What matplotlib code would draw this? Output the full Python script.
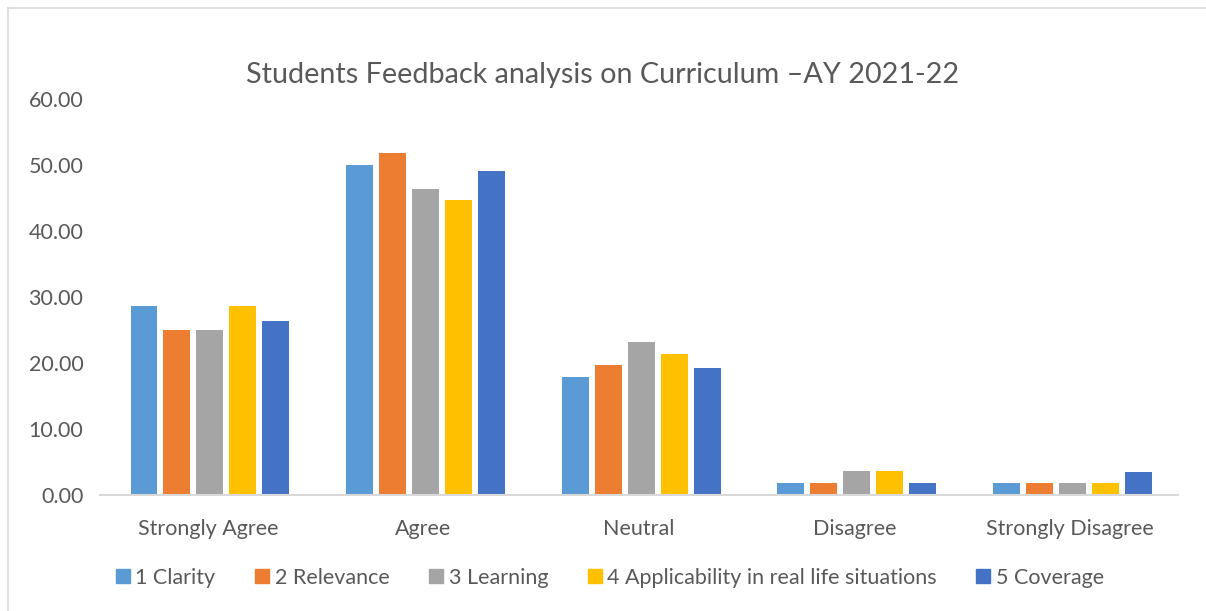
import matplotlib.pyplot as plt
import numpy as np
from matplotlib.lines import Line2D

# response categories and % of students per curriculum aspect
categories = ['Strongly Agree', 'Agree', 'Neutral', 'Disagree', 'Strongly Disagree']
series_names = ['1 Clarity', '2 Relevance', '3 Learning',
                '4 Applicability in real life situations', '5 Coverage']
clarity = [28.57, 50.00, 17.86, 1.79, 1.79]
relevance = [25.00, 51.79, 19.64, 1.79, 1.79]
learning = [25.00, 46.43, 23.21, 3.57, 1.79]
applicability = [28.57, 44.64, 21.43, 3.57, 1.79]
coverage = [26.32, 49.12, 19.30, 1.75, 3.51]
y_ticks = [0, 10, 20, 30, 40, 50, 60]

series = [clarity, relevance, learning, applicability, coverage]
colors = ['#5B9BD5', '#ED7D31', '#A5A5A5', '#FFC000', '#4472C4']
text_col = '#595959'

plt.rcParams['font.family'] = ['Lato', 'DejaVu Sans']

fig = plt.figure(figsize=(12.06, 6.11), dpi=100)
ax = fig.add_axes([100/1206, 1 - 495/611, 1078/1206, 396/611])

x = np.arange(len(categories))
step = 0.153
width = 0.125
for i, vals in enumerate(series):
    ax.bar(x + (i - 2) * step + 0.01, vals, width, color=colors[i], label=series_names[i])

ax.set_xlim(-0.5, len(categories) - 0.5)
ax.set_ylim(0, 60)
ax.set_yticks(y_ticks)
ax.set_yticklabels(['%.2f' % v for v in y_ticks], color=text_col, fontsize=15.5)
ax.set_xticks(x)
ax.set_xticklabels(categories, color=text_col, fontsize=15.5)
ax.tick_params(axis='both', length=0)
ax.tick_params(axis='x', pad=17)
ax.tick_params(axis='y', pad=12)
for s in ['top', 'right', 'left']:
    ax.spines[s].set_visible(False)
ax.spines['bottom'].set_color('#D9D9D9')
ax.spines['bottom'].set_linewidth(1.5)

fig.text(0.5, 1 - 75/611, 'Students Feedback analysis on Curriculum \u2013AY 2021-22',
         ha='center', va='center', fontsize=20.7, color=text_col)

handles = [Line2D([], [], marker='s', linestyle='none', markersize=10,
                  markerfacecolor=c, markeredgecolor=c) for c in colors]
fig.legend(handles, series_names, loc='center', bbox_to_anchor=(0.506, 1 - 578/611),
           ncol=5, frameon=False, fontsize=15.5, labelcolor=text_col,
           handlelength=0.6, handletextpad=0.3, columnspacing=1.85)

# chart area border (left and top edges visible)
fig.add_artist(Line2D([8/1206, 8/1206], [0, 1 - 8/611], color='#D9D9D9', lw=1.2))
fig.add_artist(Line2D([8/1206, 1], [1 - 8/611, 1 - 8/611], color='#D9D9D9', lw=1.2))

fig.savefig('out.png', dpi=100)
